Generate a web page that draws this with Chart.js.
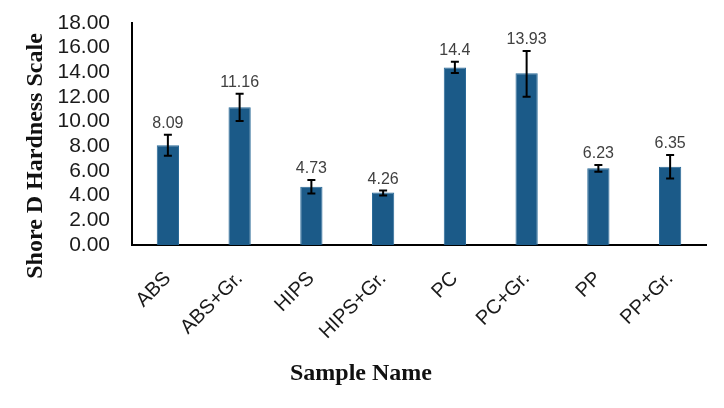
<!DOCTYPE html>
<html lang="en">
<head>
  <meta charset="UTF-8" />
  <title>Shore D Hardness</title>
  <script src="https://cdn.jsdelivr.net/npm/chart.js"></script>
  <style>
    html, body {
      margin: 0;
      padding: 0;
      background: #fff;
    }
    .wrap {
      width: 724px;
      height: 408px;
    }
  </style>
</head>
<body>
  <div class="wrap">
    <canvas id="grafico" width="724" height="408"></canvas>
  </div>

  <script>
    const muestras = ['ABS', 'ABS+Gr.', 'HIPS', 'HIPS+Gr.', 'PC', 'PC+Gr.', 'PP', 'PP+Gr.'];
    const dureza = [8.09, 11.16, 4.73, 4.26, 14.4, 13.93, 6.23, 6.35];
    const etiquetas = ['8.09', '11.16', '4.73', '4.26', '14.4', '13.93', '6.23', '6.35'];
    const errorSup = [0.85, 1.1, 0.55, 0.15, 0.45, 1.8, 0.25, 0.95];
    const errorInf = [0.85, 1.1, 0.55, 0.25, 0.45, 1.9, 0.3, 0.95];
    const ticksY = [0, 2, 4, 6, 8, 10, 12, 14, 16, 18];

    // error bars + value labels, drawn from the scales
    const barrasError = {
      id: 'barrasError',
      afterDatasetsDraw(chart) {
        const ctx = chart.ctx;
        const y = chart.scales.y;
        const meta = chart.getDatasetMeta(0);
        ctx.save();
        meta.data.forEach((bar, i) => {
          const x = bar.x;
          const yTop = y.getPixelForValue(dureza[i] + errorSup[i]);
          const yBot = y.getPixelForValue(dureza[i] - errorInf[i]);
          ctx.strokeStyle = '#000';
          ctx.lineWidth = 2;
          ctx.beginPath();
          ctx.moveTo(x, yTop); ctx.lineTo(x, yBot);
          ctx.moveTo(x - 4, yTop); ctx.lineTo(x + 4, yTop);
          ctx.moveTo(x - 4, yBot); ctx.lineTo(x + 4, yBot);
          ctx.stroke();

          const tope = Math.min(yTop, bar.y);
          ctx.fillStyle = '#404040';
          ctx.font = '16px "Liberation Sans", Arial, sans-serif';
          ctx.textAlign = 'center';
          ctx.textBaseline = 'bottom';
          ctx.fillText(etiquetas[i], x, tope - 3);
        });
        ctx.restore();
      }
    };

    // axis titles
    const titulos = {
      id: 'titulos',
      afterDraw(chart) {
        const ctx = chart.ctx;
        const area = chart.chartArea;
        ctx.save();
        ctx.fillStyle = '#111';
        ctx.font = 'bold 24px "Liberation Serif", "Times New Roman", serif';
        ctx.textAlign = 'center';
        ctx.textBaseline = 'middle';
        ctx.fillText('Sample Name', area.left + 229, 374);

        ctx.translate(36, 156);
        ctx.rotate(-Math.PI / 2);
        ctx.font = 'bold 24px "Liberation Serif", "Times New Roman", serif';
        ctx.fillText('Shore D Hardness Scale', 0, 0);
        ctx.restore();
      }
    };

    new Chart(document.getElementById('grafico'), {
      type: 'bar',
      data: {
        labels: muestras,
        datasets: [{
          data: dureza,
          backgroundColor: '#1b5a88',
          borderColor: '#2a6a98',
          borderWidth: 1,
          categoryPercentage: 1,
          barPercentage: 0.31
        }]
      },
      options: {
        responsive: false,
        animation: false,
        layout: {
          padding: { top: 0, right: 18, bottom: 0, left: 0 }
        },
        plugins: {
          legend: { display: false },
          tooltip: { enabled: false }
        },
        scales: {
          y: {
            min: 0,
            max: 18,
            afterBuildTicks(scale) {
              scale.ticks = ticksY.map(v => ({ value: v }));
            },
            afterFit(scale) {
              scale.width = 132;
              scale.paddingTop = 23;
            },
            grid: { display: false, drawTicks: false },
            border: { display: true, color: '#000', width: 2 },
            ticks: {
              autoSkip: false,
              padding: 22,
              color: '#1a1a1a',
              font: { size: 21, family: '"Liberation Sans", Arial, sans-serif' },
              callback: v => v.toFixed(2)
            }
          },
          x: {
            afterFit(scale) {
              scale.height = 163;
              scale.paddingTop = 0;
            },
            grid: { display: false, drawTicks: false },
            border: { display: true, color: '#000', width: 2 },
            ticks: {
              autoSkip: false,
              padding: 22,
              color: '#1a1a1a',
              minRotation: 45,
              maxRotation: 45,
              font: { size: 20, family: '"Liberation Sans", Arial, sans-serif' }
            }
          }
        }
      },
      plugins: [barrasError, titulos]
    });
  </script>
</body>
</html>
